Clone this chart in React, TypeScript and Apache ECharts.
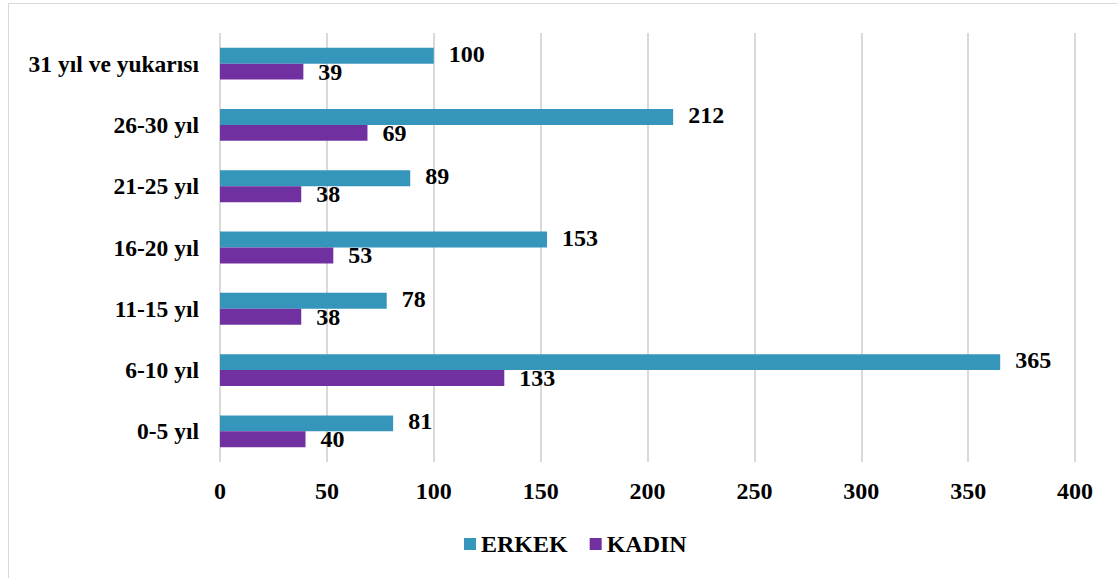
import React, { useEffect, useRef } from "react";
import * as echarts from "echarts";

const categories = ["0-5 yıl", "6-10 yıl", "11-15 yıl", "16-20 yıl", "21-25 yıl", "26-30 yıl", "31 yıl ve yukarısı"];
const erkek = [81, 365, 78, 153, 89, 212, 100];
const kadin = [40, 133, 38, 53, 38, 69, 39];
const xTicks = { min: 0, max: 400, interval: 50 };

const FONT = "'Liberation Serif', 'Times New Roman', serif";

export default function App() {
  const ref = useRef<HTMLDivElement>(null);
  useEffect(() => {
    if (!ref.current) return;
    const chart = echarts.init(ref.current, undefined, { renderer: "svg" });
    chart.setOption({
      animation: false,
      backgroundColor: "#ffffff",
      graphic: [
        {
          type: "rect",
          shape: { x: 8.5, y: 3.5, width: 1130, height: 600 },
          style: { fill: "none", stroke: "#d9d9d9", lineWidth: 1 },
          silent: true,
        },
      ],
      grid: { left: 220, right: 43, top: 33, bottom: 116, containLabel: false },
      legend: {
        top: 527,
        left: 459,
        itemWidth: 12,
        itemHeight: 12,
        itemGap: 22,
        icon: "rect",
        textStyle: { fontFamily: FONT, fontWeight: "bold", fontSize: 24, color: "#000" },
        data: ["ERKEK", "KADIN"],
      },
      xAxis: {
        type: "value",
        min: xTicks.min,
        max: xTicks.max,
        interval: xTicks.interval,
        axisLine: { show: false },
        axisTick: { show: false },
        splitLine: { lineStyle: { color: "#d9d9d9", width: 2 } },
        axisLabel: { fontFamily: FONT, fontWeight: "bold", fontSize: 24, color: "#000", margin: 17 },
      },
      yAxis: {
        type: "category",
        data: categories,
        axisLine: { show: false },
        axisTick: { show: false },
        axisLabel: { fontFamily: FONT, fontWeight: "bold", fontSize: 23.5, color: "#000", margin: 21 },
      },
      series: [
        {
          name: "ERKEK",
          type: "bar",
          data: erkek,
          itemStyle: { color: "#3595bb" },
          barGap: "0%",
          barCategoryGap: "48%",
          label: {
            show: true,
            position: "right",
            distance: 15,
            offset: [0, -2],
            fontFamily: FONT,
            fontWeight: "bold",
            fontSize: 24,
            color: "#000",
          },
        },
        {
          name: "KADIN",
          type: "bar",
          data: kadin,
          itemStyle: { color: "#7030a0" },
          barGap: "0%",
          barCategoryGap: "48%",
          label: {
            show: true,
            position: "right",
            distance: 15,
            offset: [0, 0],
            fontFamily: FONT,
            fontWeight: "bold",
            fontSize: 24,
            color: "#000",
          },
        },
      ],
    });
    return () => chart.dispose();
  }, []);
  return (
    <div
      ref={ref}
      style={{ position: "absolute", left: 0, top: 0, width: 1118, height: 578 }}
    />
  );
}
